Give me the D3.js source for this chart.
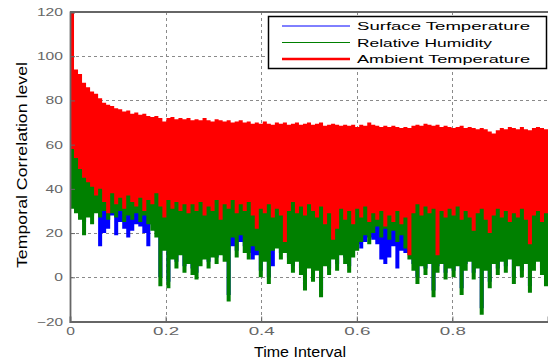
<!DOCTYPE html>
<html>
<head>
<meta charset="utf-8">
<script src="https://cdn.jsdelivr.net/npm/d3@7"></script>
<style>
  body { margin: 0; background: #fff; }
  svg { display: block; font-family: "Liberation Sans", Arial, sans-serif; }
</style>
</head>
<body>
<svg id="chart" width="548" height="363"></svg>
<script>
// values, 120 evenly spaced samples over the time interval [0, 1]
const redHigh = [120,94,92,88,86,84,83,81,79,78,77.5,76.5,76,75,75.5,74,74.5,73.5,74,73,
  72.5,73,72,70.5,72,72.5,71.5,72,71.5,72,71,71.5,71,72,71,70.5,71.5,71,70.5,71,
  70,70.5,71,70,70.5,69.5,70,69.5,70.5,69.5,69,70,69.5,70,69,69.5,70,69,69.5,70,
  69,69.5,70,68.5,69,69.5,69,68.5,69,68.5,69,68,69,68.5,70,69,68.5,68,68.5,68,
  68.5,68,67.5,68,67.5,68.5,69,68.5,69.5,69,68.5,69,68,68.5,68,67.5,68,68.5,67.5,68,
  67.5,67,67.5,67,66,65,66.5,67.5,67,68,67.5,67,68,67,66.5,67.5,68,67.5,67,66.5];
const redLow = [58,54,49,45,43,41,37,40,34,29,38,33,36,31,37,34,32,36,30,35,
  33,38,32,27,35,31,34,30,33,29,33,30,34,28,32,30,35,26,33,31,35,29,33,30,34,28,22,31,29,33,
  27,31,28,16,30,34,29,32,28,33,30,27,32,24,29,17,22,31,26,30,24,31,27,32,25,29,26,30,23,28,
  25,30,24,27,10,29,33,28,32,29,31,10,30,27,31,28,32,26,30,27,21,29,31,26,20,28,31,27,30,25,
  29,27,31,26,15,28,30,25,29,27];
const greenHigh = [66,62,58,55,54,52,55,51,53,50,54,52,55,51,53,50,52,54,51,53,
  50,52,55,51,53,50,52,54,51,53,50,52,55,51,53,50,52,54,51,53,50,52,55,51,53,50,52,54,51,53,
  50,52,55,51,53,50,52,54,51,53,50,52,55,51,53,50,52,54,51,53,50,52,55,51,53,50,52,54,51,53,
  50,52,55,51,53,50,52,54,51,53,50,52,55,51,53,50,52,54,51,53,50,52,55,51,53,50,52,54,51,53,
  50,52,55,51,53,50,52,54,51,53];
const greenLow = [31,29,26,19,27,24,29,27,30,26,29,27,30,25,28,26,29,25,28,24,
  21,18,-4,12,-5,8,4,10,2,6,1,-1,5,8,4,9,6,10,7,-11,18,9,19,11,8,14,12,0,7,-3,
  12,13,8,11,6,2,7,1,-6,4,-2,3,-9,5,1,8,3,10,6,2,9,12,16,19,15,20,23,18,22,17,
  21,16,19,13,8,3,-3,5,1,6,-9,2,6,-1,4,0,5,-8,3,7,-1,4,-17,3,-5,6,1,7,2,8,
  -3,5,0,6,-7,3,7,1,-4,-11];
const blueHigh = [44,42,40,42,41,43,40,42,39,41,43,40,42,39,41,43,40,42,39,41,
  43,40,42,39,41,43,40,42,39,41,43,40,42,39,41,43,40,42,39,41,43,40,42,39,41,43,40,42,39,41,
  43,40,42,39,41,43,40,42,39,41,43,40,42,39,41,43,40,42,39,41,43,40,42,39,41,43,40,42,39,41,
  43,40,42,39,41,43,40,42,39,41,43,40,42,39,41,43,40,42,39,41,43,40,42,39,41,43,40,42,39,41,
  43,40,42,39,41,43,40,42,39,41];
const blueLow = [34,32,30,25,30,28,31,14,20,22,28,19,25,22,18,21,24,23,20,14,
  24,21,0,15,-2,11,7,13,5,9,4,2,8,11,7,12,9,13,10,-8,14,12,16,14,11,8,10,3,10,0,
  5,16,11,14,9,5,10,4,-3,7,1,6,-6,8,4,11,6,13,9,5,12,15,13,16,18,17,15,8,6,9,
  14,4,12,11,11,6,0,8,4,9,-6,5,9,2,7,3,8,-5,6,10,2,7,-14,6,-2,9,4,10,5,11,
  0,8,3,9,-4,6,10,4,-1,-8];

const xTicks = [0, 0.2, 0.4, 0.6, 0.8];
const yTicks = [-20, 0, 20, 40, 60, 80, 100, 120];
const legendNames = ["Surface Temperature", "Relative Humidity", "Ambient Temperature"];
const legendColors = ["#0000ff", "#008000", "#ff0000"];

const svg = d3.select("#chart");
const margin = { left: 70, right: 0, top: 12, bottom: 42 };
const width = 548, height = 363;
const x = d3.scaleLinear().domain([0, 1]).range([margin.left, width - margin.right]);
const y = d3.scaleLinear().domain([-20, 120]).range([height - margin.bottom + 0.5, margin.top]);
const axisColor = "#666";

// grid (behind data)
const grid = svg.append("g").attr("stroke", "#8a8a8a").attr("stroke-dasharray", "3,3").attr("stroke-width", 1);
grid.selectAll(".gx").data(xTicks.filter(d => d > 0)).enter().append("line")
  .attr("x1", d => Math.round(x(d)) + 0.5).attr("x2", d => Math.round(x(d)) + 0.5)
  .attr("y1", y(120)).attr("y2", y(-20));
grid.selectAll(".gy").data(yTicks.filter(d => d > -20 && d < 120)).enter().append("line")
  .attr("y1", d => Math.round(y(d)) + 0.5).attr("y2", d => Math.round(y(d)) + 0.5)
  .attr("x1", x(0)).attr("x2", x(1));

// series drawn as dense bands, blue first, red on top
function band(high, low) {
  const n = high.length;
  return d3.area().curve(d3.curveStepAfter)
    .x((d, i) => x(i / (n - 1))).y0((d, i) => y(low[i])).y1((d, i) => y(high[i]))(high);
}
const plot = svg.append("g");
plot.append("path").attr("d", band(blueHigh, blueLow)).attr("fill", "#0000ff");
plot.append("path").attr("d", band(greenHigh, greenLow)).attr("fill", "#008000");
plot.append("path").attr("d", band(redHigh, redLow)).attr("fill", "#ff0000");

// axes
const xAxis = d3.axisBottom(x).tickValues(xTicks).tickSize(-5).tickPadding(6).tickFormat(d => d === 0 ? "0" : d3.format(".1f")(d));
const yAxis = d3.axisLeft(y).tickValues(yTicks).tickSize(-5).tickPadding(7);
const gx = svg.append("g").attr("transform", `translate(0,${y(-20)})`).call(xAxis);
const gy = svg.append("g").attr("transform", `translate(${x(0)},0)`).call(yAxis);
[gx, gy].forEach(g => {
  g.select(".domain").attr("stroke", axisColor).attr("stroke-width", 1.8);
  g.selectAll(".tick line").attr("stroke", axisColor);
  g.selectAll(".tick text").attr("fill", axisColor).style("font-size", "11px")
    .attr("textLength", function() { return this.textContent.length * 8.7; })
    .attr("lengthAdjust", "spacingAndGlyphs");
});
svg.append("line").attr("x1", x(0)).attr("x2", x(1)).attr("y1", y(120)).attr("y2", y(120))
  .attr("stroke", axisColor).attr("stroke-width", 1.8);

// axis titles
svg.append("text").attr("x", 300).attr("y", 357).attr("text-anchor", "middle")
  .style("font-size", "14px").attr("fill", "#000")
  .attr("textLength", 92).attr("lengthAdjust", "spacingAndGlyphs").text("Time Interval");
svg.append("text").attr("transform", "translate(27,165) rotate(-90)").attr("text-anchor", "middle")
  .style("font-size", "14px").attr("fill", "#000")
  .attr("textLength", 206).attr("lengthAdjust", "spacingAndGlyphs").text("Temporal Correlation level");

// legend
const legendWidths = [173, 135, 173];
const legend = svg.append("g");
legend.append("rect").attr("x", 268.5).attr("y", 16.5).attr("width", 278).attr("height", 52)
  .attr("fill", "#fff").attr("stroke", "#000").attr("stroke-width", 1.5);
legendNames.forEach((name, i) => {
  const ly = 26 + i * 16.5;
  legend.append("line").attr("x1", 282).attr("x2", 350).attr("y1", ly).attr("y2", ly)
    .attr("stroke", legendColors[i]).attr("stroke-width", i === 2 ? 2.5 : 1);
  legend.append("text").attr("x", 357).attr("y", ly + 4.2).style("font-size", "11.5px")
    .attr("fill", "#000").attr("textLength", legendWidths[i]).attr("lengthAdjust", "spacingAndGlyphs")
    .text(name);
});
</script>
</body>
</html>
